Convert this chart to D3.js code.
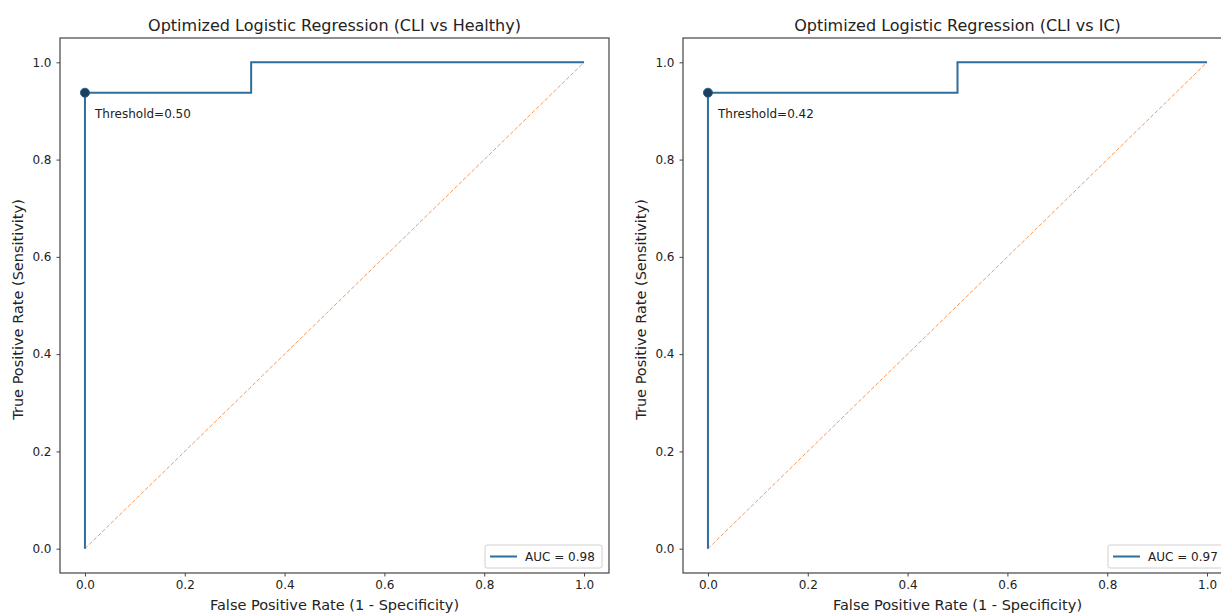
<!DOCTYPE html>
<html>
<head>
<meta charset="utf-8">
<script src="https://cdn.jsdelivr.net/npm/d3@7"></script>
<style>
  body { margin: 0; background: #fff; }
  text { font-family: "DejaVu Sans", sans-serif; fill: #222; }
</style>
</head>
<body>
<div id="chart"></div>
<script>
// chart data
var titles = ["Optimized Logistic Regression (CLI vs Healthy)", "Optimized Logistic Regression (CLI vs IC)"];
var fprHealthy = [0, 0, 0.333, 0.333, 1];
var tprHealthy = [0, 0.9375, 0.9375, 1, 1];
var fprIC = [0, 0, 0.5, 0.5, 1];
var tprIC = [0, 0.9375, 0.9375, 1, 1];
var bestFpr = [0, 0];
var bestTpr = [0.9375, 0.9375];
var thresholds = ["0.50", "0.42"];
var aucs = ["0.98", "0.97"];
var ticks = [0, 0.2, 0.4, 0.6, 0.8, 1.0];

var panels = [
  {title: titles[0], fpr: fprHealthy, tpr: tprHealthy, bx: bestFpr[0], by: bestTpr[0], thr: thresholds[0], auc: aucs[0], left: 60},
  {title: titles[1], fpr: fprIC, tpr: tprIC, bx: bestFpr[1], by: bestTpr[1], thr: thresholds[1], auc: aucs[1], left: 683}
];

var W = 1221, H = 613;
var axW = 549, axTop = 38, axH = 535;

var svg = d3.select("#chart")
  .append("svg")
  .attr("width", W)
  .attr("height", H);

panels.forEach(function(p, i) {
  var x = d3.scaleLinear().domain([-0.05, 1.05]).range([p.left, p.left + axW]);
  var y = d3.scaleLinear().domain([-0.05, 1.05]).range([axTop + axH, axTop]);

  var g = svg.append("g");

  // diagonal reference
  g.append("line")
    .attr("x1", x(0)).attr("y1", y(0))
    .attr("x2", x(1)).attr("y2", y(1))
    .attr("stroke", "#f39a5a")
    .attr("stroke-width", 1)
    .attr("stroke-dasharray", "4,2");

  // roc curve
  var pts = p.fpr.map(function(d, k) { return [d, p.tpr[k]]; });
  var line = d3.line().x(function(d) { return x(d[0]); }).y(function(d) { return y(d[1]); });
  g.append("path")
    .attr("d", line(pts))
    .attr("fill", "none")
    .attr("stroke", "#2f6d9c")
    .attr("stroke-width", 2);

  // best threshold point
  g.append("circle")
    .attr("cx", x(p.bx)).attr("cy", y(p.by))
    .attr("r", 4.5)
    .attr("fill", "#1b3f60")
    .attr("stroke", "#2f5f85")
    .attr("stroke-width", 1);

  g.append("text")
    .attr("x", x(p.bx) + 10)
    .attr("y", y(p.by) + 25)
    .attr("font-size", "12px")
    .text("Threshold=" + p.thr);

  // frame
  g.append("rect")
    .attr("x", p.left).attr("y", axTop)
    .attr("width", axW).attr("height", axH)
    .attr("fill", "none")
    .attr("stroke", "#444")
    .attr("stroke-width", 1.2);

  // axes
  var xa = g.append("g")
    .attr("transform", "translate(0," + (axTop + axH) + ")")
    .call(d3.axisBottom(x).tickValues(ticks).tickFormat(d3.format(".1f")).tickSize(3.5).tickPadding(4));
  var ya = g.append("g")
    .attr("transform", "translate(" + p.left + ",0)")
    .call(d3.axisLeft(y).tickValues(ticks).tickFormat(d3.format(".1f")).tickSize(3.5).tickPadding(5));
  [xa, ya].forEach(function(a) {
    a.select(".domain").remove();
    a.selectAll("line").attr("stroke", "#444");
    a.selectAll("text").attr("font-size", "12px").attr("font-family", "DejaVu Sans").attr("fill", "#222");
  });

  // title and labels
  var cx = p.left + axW / 2;
  g.append("text")
    .attr("x", cx).attr("y", 31)
    .attr("text-anchor", "middle")
    .attr("font-size", "16px")
    .text(p.title);
  g.append("text")
    .attr("x", cx).attr("y", 610)
    .attr("text-anchor", "middle")
    .attr("font-size", "14.5px")
    .text("False Positive Rate (1 - Specificity)");
  g.append("text")
    .attr("transform", "translate(" + (p.left - 37) + "," + (axTop + axH / 2 + 4) + ") rotate(-90)")
    .attr("text-anchor", "middle")
    .attr("font-size", "14.5px")
    .text("True Positive Rate (Sensitivity)");

  // legend
  var lx = p.left + axW - 7 - 117, ly = axTop + axH - 28;
  var lg = g.append("g").attr("transform", "translate(" + lx + "," + ly + ")");
  lg.append("rect")
    .attr("width", 117).attr("height", 23)
    .attr("rx", 2)
    .attr("fill", "#fff")
    .attr("stroke", "#d0d0d0");
  lg.append("line")
    .attr("x1", 5).attr("x2", 32)
    .attr("y1", 11.5).attr("y2", 11.5)
    .attr("stroke", "#2f6d9c")
    .attr("stroke-width", 2);
  lg.append("text")
    .attr("x", 40).attr("y", 16)
    .attr("font-size", "12px")
    .text("AUC = " + p.auc);
});
</script>
</body>
</html>
